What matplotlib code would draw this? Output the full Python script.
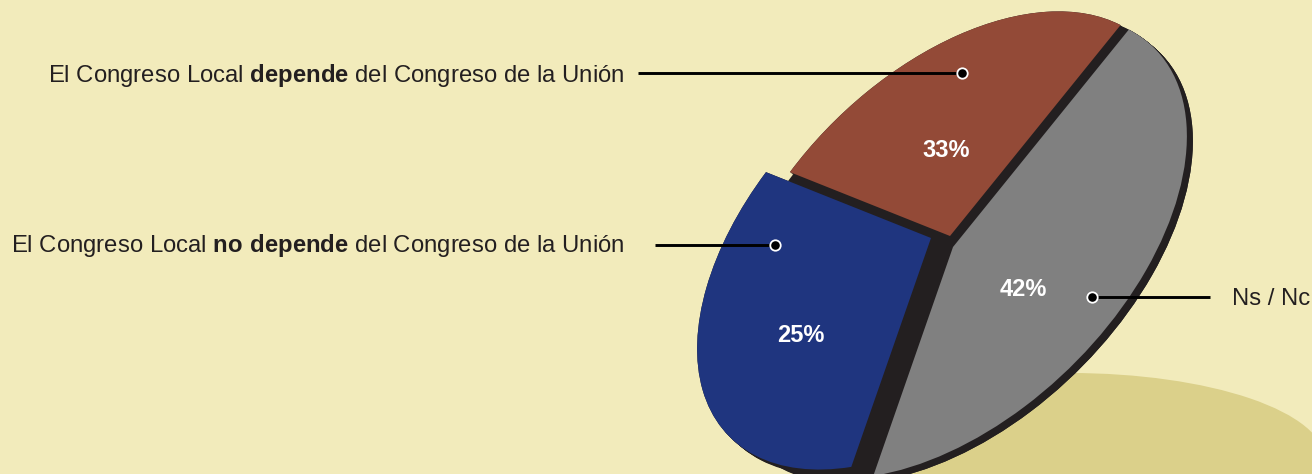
import matplotlib.pyplot as plt
from matplotlib.patches import Wedge, Ellipse
from matplotlib.transforms import Affine2D

plt.rcParams['font.family'] = ['Liberation Sans', 'DejaVu Sans']
plt.rcParams['mathtext.fontset'] = 'custom'
plt.rcParams['mathtext.rm'] = 'Liberation Sans'
plt.rcParams['mathtext.bf'] = 'Liberation Sans:bold'

# slices, counter-clockwise starting with the brown one
categories = ['depende', 'no depende', 'Ns / Nc']
shares = [26, 32, 42]                  # slice sizes as they are drawn
pct_labels = ['33%', '25%', '42%']     # numbers printed on the slices
colors = ['#934a37', '#1f357f', '#808080']
label_texts = [r'El Congreso Local $\bf{depende}$ del Congreso de la Unión',
               r'El Congreso Local $\bf{no\ depende}$ del Congreso de la Unión',
               'Ns / Nc']

bg = '#f2ebbb'
dark = '#231f20'
W, H = 1312, 474

# tilted disc (pixel coords, y down)
cx, cy = 953, 247
a, b, tilt = 283, 168, 44.4
slice_offsets = [(-3, -11), (-22, -9), (0, 0)]
slice_scale = [0.97, 1.0, 1.0]
rim = (6, 5)

fig = plt.figure(figsize=(W / 100, H / 100), dpi=100, facecolor=bg)
ax = fig.add_axes([0, 0, 1, 1])

wedges, _ = ax.pie(shares, colors=colors, startangle=11.1, counterclock=True,
                   wedgeprops=dict(linewidth=0))
ax.set_xlim(0, W)
ax.set_ylim(H, 0)
ax.set_aspect('auto')
ax.axis('off')

base = Affine2D().scale(a, b).rotate_deg(tilt).scale(1, -1).translate(cx, cy)

# floor shadow
ax.add_patch(Ellipse((1070, 460), 510, 174, color='#dbd08a', lw=0, zorder=0))

# side of the disc: dark copies swept along the rim direction
steps = 5
for w, off, s in zip(wedges, slice_offsets, slice_scale):
    for start, sc in [((0, 0), 1.0), (off, s)]:
        for k in range(steps + 1):
            dx = start[0] + rim[0] * k / steps
            dy = start[1] + rim[1] * k / steps
            side = Wedge(w.center, w.r * sc, w.theta1, w.theta2, color=dark, lw=0, zorder=1)
            side.set_transform(base + Affine2D().translate(dx, dy) + ax.transData)
            ax.add_patch(side)

for w, off, s in zip(wedges, slice_offsets, slice_scale):
    w.set_transform(Affine2D().scale(s) + base + Affine2D().translate(*off) + ax.transData)
    w.set_zorder(3)

# percentages
pct_pos = [(946, 157), (801, 342), (1023, 296)]
for txt, (x, y) in zip(pct_labels, pct_pos):
    ax.text(x, y, txt, color='white', fontsize=17, fontweight='bold',
            ha='center', va='baseline', zorder=5)

# leader lines with dots
leaders = [((638, 962), 73), ((655, 775), 245), ((1210, 1092), 297)]
for (x0, x1), y in leaders:
    ax.plot([x0, x1], [y, y], color='black', lw=2.1, zorder=6, solid_capstyle='butt')
    ax.plot(x1, y, 'o', ms=7.5, mfc='black', mec='white', mew=1.3, zorder=7)

ax.text(624, 82, label_texts[0], fontsize=17.2, color='#231f20', ha='right', va='baseline')
ax.text(624, 252, label_texts[1], fontsize=17.2, color='#231f20', ha='right', va='baseline')
ax.text(1232, 305, label_texts[2], fontsize=17.2, color='#231f20', ha='left', va='baseline')

fig.savefig('out.png', dpi=100, facecolor=bg)
